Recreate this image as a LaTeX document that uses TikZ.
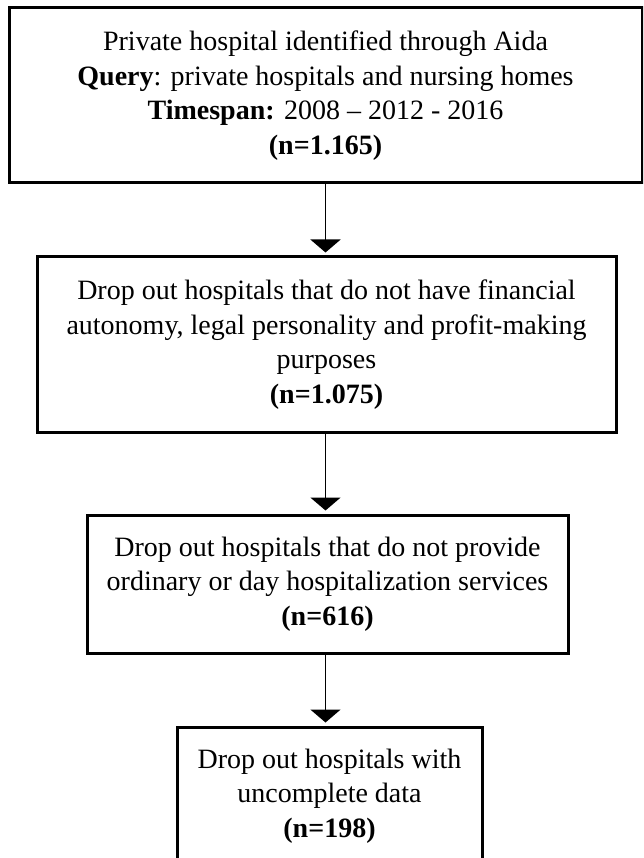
\documentclass[tikz,border=0pt]{standalone}
\usepackage{fontspec}
\setmainfont{Liberation Serif}
\usetikzlibrary{positioning,arrows.meta}
\tikzset{stage/.style={draw,line width=3pt,rectangle,inner sep=0pt,align=center,
    font=\fontsize{28}{34.5}\selectfont},
  flow/.style={line width=1.8pt,-{Triangle[width=30pt,length=13pt]},shorten >=3pt}}

\begin{document}
\begin{tikzpicture}[x=1pt,y=1pt]
\useasboundingbox (0,0) rectangle (643,-858);
\clip (0,0) rectangle (643,-858);
\node[stage,minimum width=633pt,minimum height=175pt] (aida) at (325.5,-95.5)
  {Private hospital identified through Aida\\
   \textbf{Query}: private hospitals and nursing homes\\
   \textbf{Timespan:} 2008 -- 2012 - 2016\\
   \textbf{(n=1.165)}};
\node[stage,minimum width=579pt,minimum height=175pt] (auto) at (326.5,-344.5)
  {Drop out hospitals that do not have financial\\
   autonomy, legal personality and profit-making\\
   purposes\\
   \textbf{(n=1.075)}};
\node[stage,minimum width=481pt,minimum height=138pt] (serv) at (327.5,-584)
  {Drop out hospitals that do not provide\\
   ordinary or day hospitalization services\\
   \textbf{(n=616)}};
\node[stage,minimum width=305pt,minimum height=138pt] (data) at (329.5,-796)
  {Drop out hospitals with\\
   uncomplete data\\
   \textbf{(n=198)}};

\draw[flow] (aida.south) -- (aida.south |- auto.north);
\draw[flow] (aida.south |- auto.south) -- (aida.south |- serv.north);
\draw[flow] (aida.south |- serv.south) -- (aida.south |- data.north);

\end{tikzpicture}
\end{document}
